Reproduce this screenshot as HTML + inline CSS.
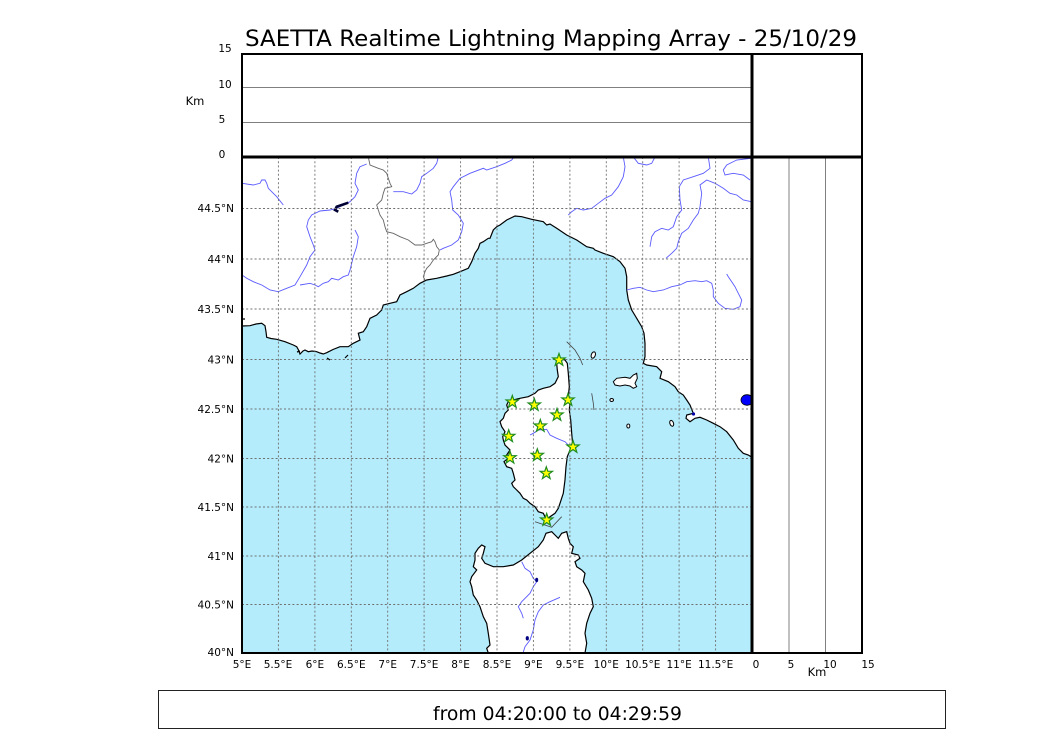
<!DOCTYPE html>
<html><head><meta charset="utf-8"><style>
html,body{margin:0;padding:0;background:#fff;}
svg{display:block;}
text{font-family:"DejaVu Sans","Liberation Sans",sans-serif;fill:#000;}
</style></head><body>
<svg width="1050" height="750" viewBox="0 0 1050 750" xmlns="http://www.w3.org/2000/svg">
<defs>
<clipPath id="mc"><rect x="242" y="157" width="510" height="496"/></clipPath>
<path id="st" d="M0,-6.5 L1.53,-2.1 L6.18,-2.01 L2.47,0.8 L3.82,5.26 L0,2.6 L-3.82,5.26 L-2.47,0.8 L-6.18,-2.01 L-1.53,-2.1 Z"/>
</defs>
<rect width="1050" height="750" fill="#fff"/>
<text x="551" y="46" font-size="22" text-anchor="middle" textLength="612" lengthAdjust="spacingAndGlyphs">SAETTA Realtime Lightning Mapping Array - 25/10/29</text>

<g clip-path="url(#mc)">
<path fill="#b4ecfc" stroke="none" d="M242,326 L250,325.7 256,324 261.7,323.3 265,325.7 266,331.7 266.7,337.3 271,338.5 276.7,339.3 285,341.7 293.3,345 296.7,346.7 298.5,350 300,354 303,351 305,350 308.3,351.7 312,351 316.7,351.7 320,353 323.3,354 326.7,352.7 333,349.5 340,346.7 348.3,346.7 353.3,343.3 360,340 358.3,333.3 363.3,331.7 366.7,326.7 370,318.3 376.7,315 381.7,310 383.3,305 390,303.3 396.7,301.7 400,295 406.7,291.7 413.3,288.3 420,283.3 426.7,280 436.7,278.3 446.7,276 453.3,274.3 460,271.7 468.3,268.3 471.7,261.7 475,253.3 478.3,248.3 480,243.3 483.3,241.7 488.3,238.3 490,238.3 493.3,230 496.7,226.7 500,225 506.7,220 515,216 521.7,216.7 531.7,219.3 543.3,221.7 546.7,225 550,224 556.7,228.3 566.7,235 576.7,240 586.7,246.7 593.3,248.3 595,250 603.3,253.3 613.3,256.7 620,261.7 625,268.3 626.7,276.7 626.7,290 628.3,300 631.7,310 636.7,318.3 641.7,326.7 644,333.3 645,343.3 645,356.7 643.3,363.3 646.7,365 656.7,366.7 661.7,371.7 660,378.3 668.3,381.7 675,386.7 678.3,391.7 683.3,395 686.7,400 690,405 693.3,413.3 686.7,415 686,418.3 690,421.7 695,418.3 700,417.3 706.7,420 713.3,423.3 720,426.7 726.7,431.7 733.3,440 738.3,448.3 743.3,453.3 748.3,455 753,458 L753,654 L241,654 Z"/>
<path fill="none" stroke="#000" stroke-width="1.2" d="M242,326 L250,325.7 256,324 261.7,323.3 265,325.7 266,331.7 266.7,337.3 271,338.5 276.7,339.3 285,341.7 293.3,345 296.7,346.7 298.5,350 300,354 303,351 305,350 308.3,351.7 312,351 316.7,351.7 320,353 323.3,354 326.7,352.7 333,349.5 340,346.7 348.3,346.7 353.3,343.3 360,340 358.3,333.3 363.3,331.7 366.7,326.7 370,318.3 376.7,315 381.7,310 383.3,305 390,303.3 396.7,301.7 400,295 406.7,291.7 413.3,288.3 420,283.3 426.7,280 436.7,278.3 446.7,276 453.3,274.3 460,271.7 468.3,268.3 471.7,261.7 475,253.3 478.3,248.3 480,243.3 483.3,241.7 488.3,238.3 490,238.3 493.3,230 496.7,226.7 500,225 506.7,220 515,216 521.7,216.7 531.7,219.3 543.3,221.7 546.7,225 550,224 556.7,228.3 566.7,235 576.7,240 586.7,246.7 593.3,248.3 595,250 603.3,253.3 613.3,256.7 620,261.7 625,268.3 626.7,276.7 626.7,290 628.3,300 631.7,310 636.7,318.3 641.7,326.7 644,333.3 645,343.3 645,356.7 643.3,363.3 646.7,365 656.7,366.7 661.7,371.7 660,378.3 668.3,381.7 675,386.7 678.3,391.7 683.3,395 686.7,400 690,405 693.3,413.3 686.7,415 686,418.3 690,421.7 695,418.3 700,417.3 706.7,420 713.3,423.3 720,426.7 726.7,431.7 733.3,440 738.3,448.3 743.3,453.3 748.3,455 753,458"/>
<path fill="none" stroke="#000" stroke-width="1.2" d="M242,319 L245,319 M327,358 L330,360 M345,358 L348,355 M297,352 l3,-1"/>

<path fill="#fff" stroke="#000" stroke-width="1.2" d="M559,358.3 L565,360 567.3,363.3 568.3,373.3 569.3,386.7 568.3,396.7 570,401.7 569.3,410 570.7,420 571.7,433.3 572.7,445 570,450 567.3,456.7 566,466.7 565,480 563.3,493.3 560,503.3 558.3,508.3 555,513.3 550,516.7 546.7,520 543.3,513.3 538.3,511.7 535,506.7 530,503.3 526.7,500 523.3,498.3 520,493.3 516.7,490 513.3,486.7 511.7,483.3 515,480 513.3,473.3 511.7,468.3 506.7,466.7 504,461.7 508.3,458.3 506.7,455 510,450 505,445 503.3,440 502.7,436.7 505,431.7 501.7,426.7 500,421.7 503.3,418.3 505,413.3 508.3,410 506.7,405 508.3,401.7 513.3,400 520,398.3 528.3,396.7 535,393.3 538.3,390 543.3,388.3 550,386.7 555,383.3 558.3,376.7 557.3,370 556.7,363.3 Z"/>
<path fill="#fff" stroke="#000" stroke-width="1.2" d="M488.3,654 L488.3,653 486.7,648.3 490,645 488.3,633.3 486.7,623.3 483.3,616.7 480,606.7 476.7,600 473.3,595 471.7,586.7 470,581.7 471.7,576.7 476.7,570 473.3,566.7 475,560 475,553.3 478.3,548.3 481.7,545 485,546.7 483.3,553.3 481.7,558.3 485,563.3 493.3,566.7 503.3,566.7 513.3,565 521.7,560 530,553.3 538.3,546.7 543.3,540 546,533.3 551.7,531.7 555,535 558.3,538.3 561.7,533.3 566.7,531.7 568.3,538.3 570,543.3 573.3,546.7 571.7,553.3 578.3,555 580,558.3 575,561.7 576.7,566.7 581.7,570 585,573.3 583.3,581.7 588.3,590 591.7,598.3 593.3,606.7 590,613.3 586.7,623.3 585,633.3 586.7,643.3 585,653 585,654 Z"/>
<ellipse cx="593.3" cy="355" rx="2" ry="3.3" fill="#fff" stroke="#000" stroke-width="1" transform="rotate(20 593.3 355)"/>
<path fill="#fff" stroke="#000" stroke-width="1" d="M613.3,381.7 L616.7,378.3 625,377.3 630,378.3 633.3,375 636.7,373.3 637.3,378.3 635,383.3 636.7,386.7 633.3,388.3 630,386 625,385 620,386 615,385 Z"/>
<ellipse cx="611.7" cy="400" rx="1.8" ry="1.5" fill="#fff" stroke="#000" stroke-width="1"/>
<ellipse cx="628.3" cy="426" rx="1.5" ry="2" fill="#fff" stroke="#000" stroke-width="1"/>
<ellipse cx="671.7" cy="423.3" rx="1.8" ry="3" fill="#fff" stroke="#000" stroke-width="1" transform="rotate(-20 671.7 423.3)"/>
<path fill="none" stroke="#444" stroke-width="0.8" d="M566.7,341.7 L575,350 580,358.3 582.7,365 M591.7,393.3 L593.3,403.3 594,410 M535,521.7 L551.7,527.3 561.7,516.7"/>
<g fill="none" stroke="#5a5aff" stroke-width="0.9">
<path d="M242,183.3 L253.3,185 260,183.3 261.7,180 265,180 266.7,183.3 268.3,188.3 271.7,191.7 276.7,196.7 283.3,205"/>
<path d="M366.7,164 L360,166.7 356.7,173.3 355,183.3 358.3,190 355,196.7 350,201.7 343.3,205 336.7,208.3 330,210 320,211 311.7,215 308.3,220 306.7,226.7 310,236.7 313.3,245 315,250 310,256.7 306.7,265 300,276.7 295,285 286.7,288.3 278.3,291.7 270,290 261.7,285 253.3,281.7 246.7,278.3 242,275"/>
<path d="M355,230 L358.3,236.7 356.7,246.7 353.3,256.7 351.7,263.3 350,270 348.3,275 343.3,276.7 338.3,280 331.7,278.3 328.3,281.7 323.3,283.3 318.3,286.7 315,285 310,283.3 300,285"/>
<path d="M393.3,191.7 L403.3,191.7 411.7,194 416.7,190 420,183.3 421.7,176.7 426.7,173.3 433.3,168.3 436.7,163.3 438.3,157"/>
<path d="M440,250 L443.3,248.3 451.7,245 458.3,240 461.7,231.7 463.3,223.3 458.3,215 452.7,210 451.7,200 450,191.7 453.3,186.7 460,178.3 470,173.3 483.3,168.3 486.7,170 496.7,166.7 505,163.3 511.7,160 514,157"/>
<path d="M623.3,157 L625,166.7 623.3,176.7 618.3,186.7 611.7,195 605,198.3 598.3,203.3 591.7,208.3 583.3,210 576.7,208.3 571.7,211.7 568.3,215"/>
<path d="M633.3,157 L638.3,163.3 646.7,165 651.7,163.3 655,157"/>
<path d="M708.3,157 L710,168.3 703.3,173.3 693.3,176.7 683.3,180 679.3,186.7 680,200 681.7,210 676.7,216.7 673.3,226.7 668.3,230 661.7,228.3 655,231.7 651.7,236.7 650,246.7"/>
<path d="M753,158 L736.7,160 726.7,165 723.3,170 725,175 733.3,173.3 743.3,175 750,180"/>
<path d="M753,202 L743.3,200 736.7,195 730,193.3 723.3,188.3 715,183.3 706.7,180 700,185 701.7,193.3 700,206.7 698.3,213.3 693.3,220 688.3,228.3 681.7,233.3 678.3,241.7 676.7,248.3 671.7,253.3 666,258.3"/>
<path d="M626.7,290 L633.3,288.3 640,287.3 646.7,290 653.3,291.7 663.3,290 671.7,286.7 680,285 686.7,281.7 695,280.7 701.7,281.7 706.7,280.7 711.7,283.3 713.3,290 713.3,296.7 718.3,303.3 725,308.3 733.3,309.3 740,306.7 741.7,300 738.3,293.3 735,286.7 731.7,281.7 728.3,276.7 726.7,274"/>
<path d="M530,435 L533.3,433.3 538.3,430 546.7,429.3 550,435 556.7,438.3 565,441.7 570,446.7"/>
<path d="M521.7,561.7 L525,568.3 530,571.7 533.3,578.3 536.7,581.7 533.3,586.7 530,593.3 521.7,601.7 518.3,606.7 521.7,613.3 523.3,618.3"/>
<path d="M560,597.3 L550,601.7 543.3,605 538.3,611.7 535,620 533.3,630 530,640 525,646.7 522.7,654"/>
</g>
<path fill="none" stroke="#666" stroke-width="0.9" d="M368.3,157 L370,165 378.3,168.3 383.3,170 386.7,173.3 388.3,178.3 390,183.3 391.7,186.7 385,188.3 383.3,193.3 381.7,200 376.7,205 378.3,210 380,215 383.3,220 385,226.7 386.7,231.7 393.3,233.3 400,236.7 408.3,240 415,245 421.7,245 426.7,243.3 431.7,241.7 433.3,239.3 435,241.7 436.7,246.7 439.3,250 438.3,255 433.3,260 430,265 426.7,268.3 425,271.7 423.3,276.7 425,280"/>
<path fill="none" stroke="#000033" stroke-width="2.6" d="M348.3,202.7 L341.7,205 336.7,206.7 335,210 338.3,211.7"/>
<ellipse cx="747" cy="400" rx="6" ry="5.3" fill="#0000ff" stroke="#000" stroke-width="0.8"/>
<ellipse cx="693.5" cy="414" rx="1.6" ry="1.6" fill="#0000aa"/>
<ellipse cx="536.7" cy="580" rx="1.5" ry="2.2" fill="#000080"/>
<ellipse cx="527.3" cy="638.3" rx="1.6" ry="2.2" fill="#000080"/>
<g stroke="#707070" stroke-width="0.9" stroke-dasharray="2,2.2" fill="none">
<path d="M278.4,157V653 M314.9,157V653 M351.3,157V653 M387.7,157V653 M424.1,157V653 M460.6,157V653 M497,157V653 M533.4,157V653 M569.9,157V653 M606.3,157V653 M642.7,157V653 M679.1,157V653 M715.6,157V653"/>
<path d="M242,208.5H752 M242,259H752 M242,309H752 M242,359.5H752 M242,409H752 M242,458.5H752 M242,507H752 M242,556H752 M242,604.5H752"/>
</g>
<g fill="#ffff00" stroke="#1e8c1e" stroke-width="1.2">
<use href="#st" x="559" y="360"/>
<use href="#st" x="512.3" y="402"/>
<use href="#st" x="534.3" y="405"/>
<use href="#st" x="568" y="400"/>
<use href="#st" x="557" y="415"/>
<use href="#st" x="540.3" y="426"/>
<use href="#st" x="508.7" y="436.3"/>
<use href="#st" x="573" y="447"/>
<use href="#st" x="510" y="457.7"/>
<use href="#st" x="537.3" y="455.3"/>
<use href="#st" x="546.3" y="473.3"/>
<use href="#st" x="546.7" y="520"/>
</g>
</g>

<path stroke="#808080" stroke-width="1" d="M242,87.5H752 M242,122.5H752"/>
<path stroke="#808080" stroke-width="1" d="M789,157V653 M825.5,157V653"/>
<rect x="242" y="54" width="620" height="599" fill="none" stroke="#000" stroke-width="2"/>
<path stroke="#000" stroke-width="3" d="M242,157H862 M752,54V653"/>

<g font-size="10.5">
<text x="225" y="52" text-anchor="middle">15</text>
<text x="225" y="88" text-anchor="middle">10</text>
<text x="222" y="123" text-anchor="middle">5</text>
<text x="222" y="158" text-anchor="middle">0</text>
<text x="195" y="105" text-anchor="middle" font-size="11.5">Km</text>
<g text-anchor="end">
<text x="234" y="212">44.5°N</text>
<text x="234" y="263">44°N</text>
<text x="234" y="313">43.5°N</text>
<text x="234" y="363.5">43°N</text>
<text x="234" y="413">42.5°N</text>
<text x="234" y="462.5">42°N</text>
<text x="234" y="511">41.5°N</text>
<text x="234" y="560">41°N</text>
<text x="234" y="608.5">40.5°N</text>
<text x="234" y="656">40°N</text>
</g>
<g text-anchor="middle">
<text x="242" y="668">5°E</text>
<text x="278" y="668">5.5°E</text>
<text x="314.9" y="668">6°E</text>
<text x="351.3" y="668">6.5°E</text>
<text x="387.7" y="668">7°E</text>
<text x="424.1" y="668">7.5°E</text>
<text x="460.6" y="668">8°E</text>
<text x="497" y="668">8.5°E</text>
<text x="533.4" y="668">9°E</text>
<text x="569.9" y="668">9.5°E</text>
<text x="606.3" y="668">10°E</text>
<text x="642.7" y="668">10.5°E</text>
<text x="679.1" y="668">11°E</text>
<text x="715.6" y="668">11.5°E</text>
<text x="756" y="668">0</text>
<text x="791" y="668">5</text>
<text x="830" y="668">10</text>
<text x="868" y="668">15</text>
<text x="817" y="676" font-size="11.5">Km</text>
</g>
</g>

<rect x="158.5" y="690.5" width="787" height="38" fill="#fff" stroke="#222" stroke-width="1"/>
<text x="557.5" y="720" font-size="19" text-anchor="middle" textLength="249" lengthAdjust="spacingAndGlyphs">from 04:20:00 to 04:29:59</text>
</svg>
</body></html>
